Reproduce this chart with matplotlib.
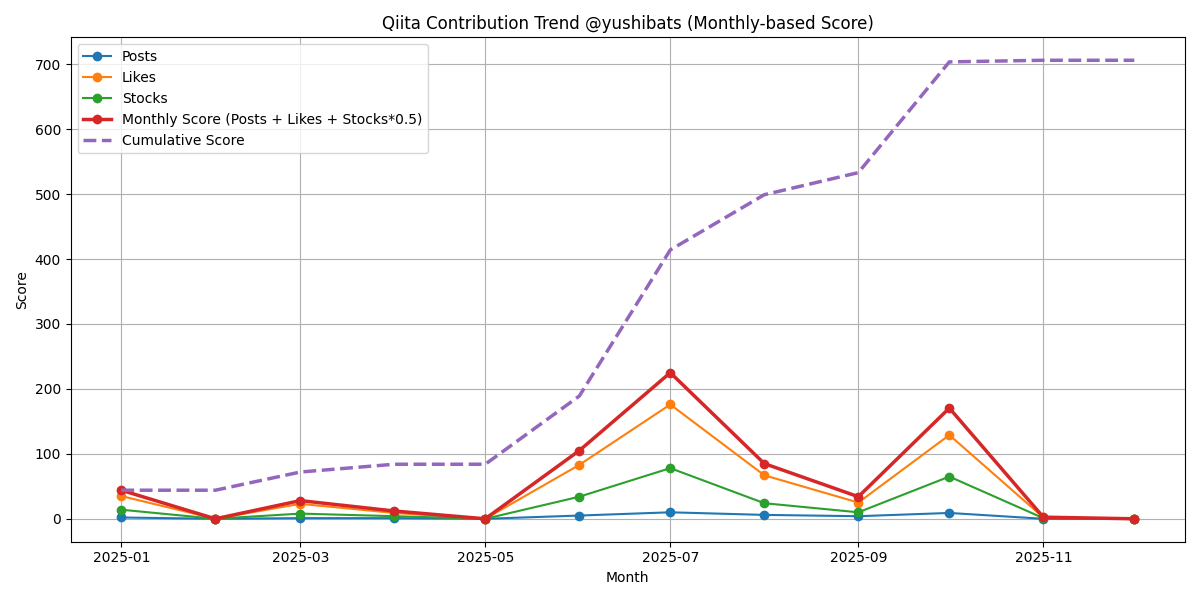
import pandas as pd
import matplotlib
matplotlib.use("Agg")
import matplotlib.pyplot as plt

# Monthly values
months = pd.date_range("2025-01-01", periods=12, freq="MS")
posts = [2, 0, 1, 1, 0, 5, 10, 6, 4, 9, 0, 0]
likes = [35, 0, 23, 9, 0, 83, 176, 67, 25, 129, 2, 0]
stocks = [14, 0, 8, 4, 0, 34, 78, 24, 10, 65, 1, 0]

df = pd.DataFrame({"Posts": posts, "Likes": likes, "Stocks": stocks}, index=months)
df["Monthly"] = df["Posts"] + df["Likes"] + df["Stocks"] * 0.5
df["Cumulative"] = df["Monthly"].cumsum()

plt.figure(figsize=(12, 6))
plt.plot(df.index, df["Posts"], marker="o", label="Posts")
plt.plot(df.index, df["Likes"], marker="o", label="Likes")
plt.plot(df.index, df["Stocks"], marker="o", label="Stocks")
plt.plot(df.index, df["Monthly"], marker="o", linewidth=2.5,
         label="Monthly Score (Posts + Likes + Stocks*0.5)")
plt.plot(df.index, df["Cumulative"], linestyle="--", linewidth=2.5,
         label="Cumulative Score")
plt.title("Qiita Contribution Trend @yushibats (Monthly-based Score)")
plt.xlabel("Month")
plt.ylabel("Score")
plt.grid(True)
plt.legend(loc="upper left")
plt.tight_layout()
plt.savefig("out.png", dpi=100)
